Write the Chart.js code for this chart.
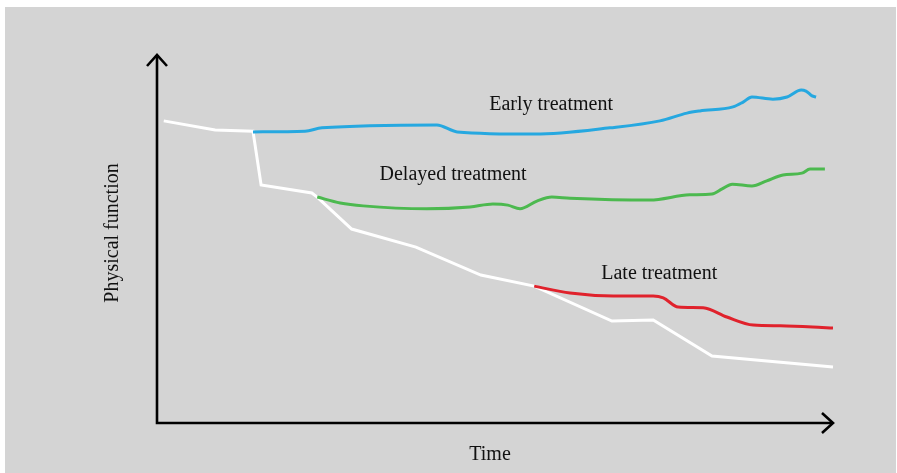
<!doctype html>
<html lang="en">
<head>
<meta charset="utf-8">
<title>Treatment timing and physical function</title>
<style>
  html, body { margin: 0; padding: 0; background: #fff; }
  #panel { position: absolute; left: 5px; top: 7px; width: 891px; height: 466px; background: #d4d4d4; }
  #wrap { position: absolute; left: 0; top: 0; width: 897px; height: 473px; }
</style>
</head>
<body>
<div id="panel"></div>
<div id="wrap"><canvas id="myChart" width="897" height="473"></canvas></div>

<script src="https://cdn.jsdelivr.net/npm/chart.js"></script>
<script>
// time runs 0..100, physical function 0..100 (arbitrary units)
const noTreatTime = [1.0, 8.6, 14.2, 15.4, 22.9, 23.7, 28.8, 38.3, 47.9, 55.8, 67.3, 73.4, 82.1, 100];
const noTreatFunc = [82.1, 79.6, 79.3, 64.7, 62.5, 61.4, 52.7, 47.8, 40.2, 37.2, 27.7, 28.0, 18.2, 15.2];

const earlyTime = [14.2, 21.9, 24.4, 41.4, 44.4, 55.9, 67.0, 74.4, 78.4, 80.3, 85.2, 86.7, 88.0, 91.1, 93.2, 95.3, 96.0, 96.9, 97.5];
const earlyFunc = [79.1, 79.3, 80.2, 81.0, 79.1, 78.5, 80.2, 82.1, 84.2, 84.8, 85.9, 87.2, 88.6, 88.0, 88.6, 90.5, 90.2, 88.9, 88.6];

const delayedTime = [23.7, 27.1, 30.5, 39.9, 46.3, 49.7, 51.9, 53.7, 56.2, 58.4, 61.1, 72.9, 78.8, 82.1, 83.6, 85.1, 88.0, 90.2, 92.6, 95.4, 96.6, 98.8];
const delayedFunc = [61.4, 59.8, 59.0, 58.2, 58.7, 59.5, 59.2, 58.2, 60.3, 61.4, 61.1, 60.6, 62.0, 62.2, 63.6, 64.9, 64.4, 65.8, 67.4, 67.9, 69.0, 69.0];

const lateTime = [55.8, 61.1, 67.5, 73.4, 74.9, 77.1, 80.8, 84.3, 88.2, 92.2, 97.0, 100];
const lateFunc = [37.2, 35.3, 34.5, 34.5, 34.0, 31.5, 31.3, 28.8, 26.6, 26.4, 26.1, 25.8];

const labels = [
  { text: 'Early treatment', x: 58.3, y: 86.5 },
  { text: 'Delayed treatment', x: 43.8, y: 67.5 },
  { text: 'Late treatment', x: 74.3, y: 40.5 }
];

function pts(xs, ys) {
  return xs.map((x, i) => ({ x: x, y: ys[i] }));
}

const serif = '"Liberation Serif", "DejaVu Serif", serif';

const axesPlugin = {
  id: 'axesPlugin',
  afterDraw(chart) {
    const c = chart.ctx;
    const a = chart.chartArea;
    const xs = chart.scales.x, ys = chart.scales.y;
    c.save();
    c.strokeStyle = '#000';
    c.lineWidth = 2.6;
    c.lineJoin = 'miter';
    c.beginPath();
    c.moveTo(a.left, a.top);
    c.lineTo(a.left, a.bottom);
    c.lineTo(a.right, a.bottom);
    c.stroke();
    // arrow heads
    c.beginPath();
    c.moveTo(a.left - 10, a.top + 11);
    c.lineTo(a.left, a.top);
    c.lineTo(a.left + 10, a.top + 11);
    c.moveTo(a.right - 11, a.bottom - 10);
    c.lineTo(a.right, a.bottom);
    c.lineTo(a.right - 11, a.bottom + 10);
    c.stroke();

    c.fillStyle = '#111';
    c.font = '20px ' + serif;
    c.textAlign = 'center';
    c.textBaseline = 'middle';
    labels.forEach(l => {
      c.fillText(l.text, xs.getPixelForValue(l.x), ys.getPixelForValue(l.y));
    });
    c.fillText('Time', (a.left + a.right) / 2 - 5, 455);
    c.translate(113, (a.top + a.bottom) / 2 - 6);
    c.rotate(-Math.PI / 2);
    c.fillText('Physical function', 0, 0);
    c.restore();
  }
};

const line = (data, color, smooth) => ({
  data: data,
  borderColor: color,
  borderWidth: 3,
  pointRadius: 0,
  fill: false,
  cubicInterpolationMode: smooth ? 'monotone' : 'default',
  tension: 0,
  clip: false
});

// first dataset is drawn on top, so the white line goes last
const config = {
  type: 'line',
  data: {
    datasets: [
      line(pts(earlyTime, earlyFunc), '#26a8e0', true),
      line(pts(delayedTime, delayedFunc), '#4cb94f', true),
      line(pts(lateTime, lateFunc), '#e0222c', true),
      line(pts(noTreatTime, noTreatFunc), '#ffffff', false)
    ]
  },
  options: {
    responsive: false,
    animation: false,
    layout: { padding: { left: 157, right: 64, top: 55, bottom: 50 } },
    plugins: { legend: { display: false }, tooltip: { enabled: false } },
    scales: {
      x: { type: 'linear', min: 0, max: 100, display: false },
      y: { type: 'linear', min: 0, max: 100, display: false }
    }
  },
  plugins: [axesPlugin]
};

const myChart = new Chart(document.getElementById('myChart'), config);
</script>
</body>
</html>
